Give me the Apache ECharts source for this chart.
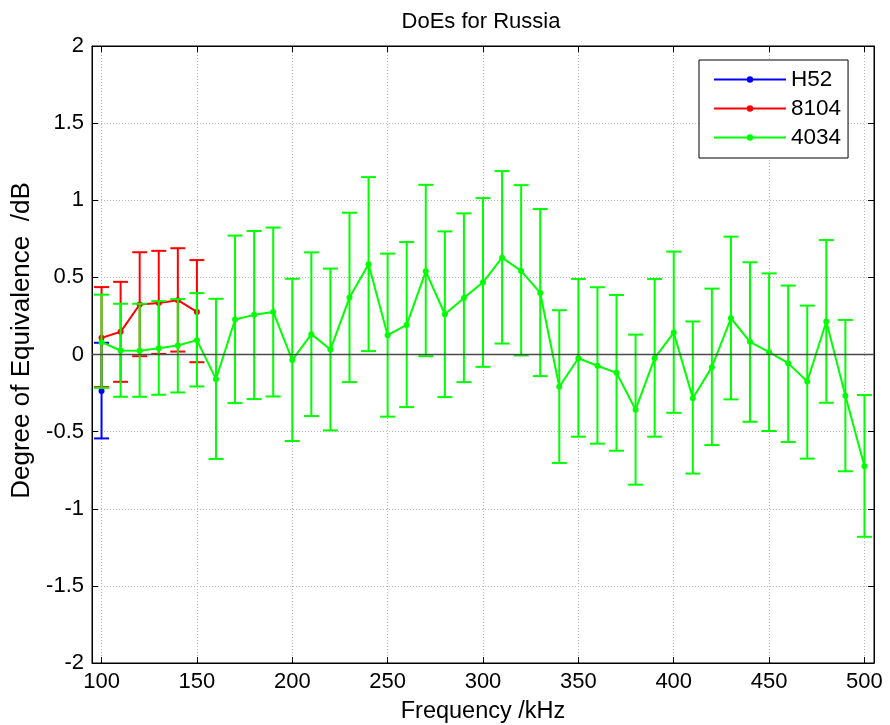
<!DOCTYPE html>
<html>
<head>
<meta charset="utf-8">
<script src="https://cdn.jsdelivr.net/npm/echarts@6/dist/echarts.min.js"></script>
<style>
html,body{margin:0;padding:0;background:#fff;}
#chart{width:890px;height:725px;}
</style>
</head>
<body>
<div id="chart"></div>
<script>
// ---- data ----
const xTicks = [100, 150, 200, 250, 300, 350, 400, 450, 500];
const xLimits = [95, 505];
const yLimits = [-2, 2];
const zeroLevel = 0;

const freqH52 = [100];
const valH52 = [-0.237];
const upH52 = [0.076];
const loH52 = [-0.544];

const freq8104 = [100, 110, 120, 130, 140, 150];
const val8104 = [0.108, 0.147, 0.324, 0.334, 0.352, 0.276];
const up8104 = [0.437, 0.471, 0.663, 0.672, 0.689, 0.612];
const lo8104 = [-0.211, -0.177, -0.011, 0.004, 0.019, -0.050];

const freq4034 = [100, 110, 120, 130, 140, 150, 160, 170, 180, 190, 200, 210, 220, 230, 240, 250, 260, 270, 280, 290, 300,
  310, 320, 330, 340, 350, 360, 370, 380, 390, 400, 410, 420, 430, 440, 450, 460, 470, 480, 490, 500];
const val4034 = [0.080, 0.026, 0.024, 0.041, 0.058, 0.093, -0.160, 0.227, 0.257, 0.276, -0.036, 0.132, 0.032, 0.369, 0.585,
  0.125, 0.192, 0.539, 0.261, 0.367, 0.468, 0.628, 0.542, 0.399, -0.209, -0.024, -0.073, -0.119, -0.358, -0.024, 0.142,
  -0.283, -0.082, 0.235, 0.082, 0.015, -0.056, -0.175, 0.214, -0.268, -0.725];
const up4034 = [0.388, 0.329, 0.329, 0.346, 0.359, 0.398, 0.361, 0.771, 0.801, 0.823, 0.491, 0.662, 0.557, 0.919, 1.150,
  0.654, 0.729, 1.100, 0.798, 0.915, 1.014, 1.189, 1.098, 0.943, 0.287, 0.490, 0.436, 0.386, 0.129, 0.490, 0.667,
  0.214, 0.427, 0.764, 0.598, 0.526, 0.447, 0.317, 0.742, 0.224, -0.263];
const lo4034 = [-0.216, -0.274, -0.274, -0.261, -0.246, -0.207, -0.677, -0.315, -0.289, -0.272, -0.561, -0.399, -0.492, -0.179, 0.022,
  -0.403, -0.341, -0.011, -0.276, -0.179, -0.080, 0.071, -0.006, -0.140, -0.703, -0.533, -0.578, -0.624, -0.844, -0.533, -0.378,
  -0.772, -0.587, -0.291, -0.436, -0.496, -0.567, -0.675, -0.313, -0.757, -1.182];

const FONT = 'Liberation Sans, Arial, sans-serif';

function pairs(xs, ys) { return xs.map((x, i) => [x, ys[i]]); }
function triples(xs, lo, hi) { return xs.map((x, i) => [x, lo[i], hi[i]]); }

function errRender(color) {
  return function (params, api) {
    const x = api.value(0), lo = api.value(1), hi = api.value(2);
    const a = api.coord([x, lo]), b = api.coord([x, hi]);
    const hw = 7.5;
    const st = { stroke: color, lineWidth: 2, fill: null };
    return {
      type: 'group',
      children: [
        { type: 'line', shape: { x1: a[0], y1: a[1], x2: b[0], y2: b[1] }, style: st },
        { type: 'line', shape: { x1: a[0] - hw, y1: a[1], x2: a[0] + hw, y2: a[1] }, style: st },
        { type: 'line', shape: { x1: b[0] - hw, y1: b[1], x2: b[0] + hw, y2: b[1] }, style: st }
      ]
    };
  };
}

function lineSeries(name, xs, ys, color, z) {
  return {
    name: name, type: 'line', data: pairs(xs, ys), color: color,
    symbol: 'circle', symbolSize: 6, showAllSymbol: true,
    lineStyle: { color: color, width: 2 }, itemStyle: { color: color },
    z: z, animation: false, clip: false
  };
}
function errSeries(name, xs, lo, hi, color, z) {
  return {
    name: name, type: 'custom', data: triples(xs, lo, hi),
    renderItem: errRender(color), z: z, animation: false, clip: false,
    encode: { x: 0, y: [1, 2] }
  };
}

const chart = echarts.init(document.getElementById('chart'), null, { renderer: 'canvas' });

const axisLineBlack = { show: true, onZero: false, lineStyle: { color: '#000', width: 1 } };
const gridDotted = { show: true, lineStyle: { color: '#b4b4b4', type: [1, 2], width: 1 } };

const option = {
  backgroundColor: '#fff',
  animation: false,
  textStyle: { fontFamily: FONT },
  title: {
    text: 'DoEs for Russia', left: 476, top: 6, textAlign: 'center',
    textStyle: { fontFamily: FONT, fontSize: 22, fontWeight: 'normal', color: '#000' }
  },
  grid: {
    left: 92, top: 46, right: 16, bottom: 62, show: true, borderColor: '#000', borderWidth: 1,
    backgroundColor: 'transparent', outerBoundsMode: 'none', containLabel: false
  },
  legend: {
    data: ['H52', '8104', '4034'], orient: 'vertical', left: 699, top: 60,
    itemWidth: 72, itemHeight: 8, itemGap: 6,
    padding: [8, 7, 9, 14],
    borderColor: '#000', borderWidth: 1, backgroundColor: '#fff',
    textStyle: { fontFamily: FONT, fontSize: 22.5, color: '#000', lineHeight: 23 },
    z: 20
  },
  xAxis: [{
    type: 'value', min: xLimits[0], max: xLimits[1], position: 'bottom',
    name: 'Frequency /kHz', nameLocation: 'middle', nameGap: 37,
    nameTextStyle: { fontFamily: FONT, fontSize: 23.5, color: '#000' },
    axisLine: axisLineBlack,
    axisTick: { show: true, inside: true, length: 6, customValues: xTicks, lineStyle: { color: '#000' } },
    axisLabel: { customValues: xTicks, fontFamily: FONT, fontSize: 22, color: '#000', margin: 8 },
    splitLine: gridDotted
  }, {
    type: 'value', min: xLimits[0], max: xLimits[1], position: 'top',
    axisLine: axisLineBlack,
    axisTick: { show: true, inside: true, length: 6, customValues: xTicks, lineStyle: { color: '#000' } },
    axisLabel: { show: false },
    splitLine: { show: false }
  }],
  yAxis: [{
    type: 'value', min: yLimits[0], max: yLimits[1], interval: 0.5, position: 'left',
    name: 'Degree of Equivalence  /dB', nameLocation: 'middle', nameGap: 56,
    nameTextStyle: { fontFamily: FONT, fontSize: 26, color: '#000', padding: [0, 0, 0, 28] },
    axisLine: axisLineBlack,
    axisTick: { show: true, inside: true, length: 6, lineStyle: { color: '#000' } },
    axisLabel: { fontFamily: FONT, fontSize: 22, color: '#000', margin: 8 },
    splitLine: gridDotted
  }, {
    type: 'value', min: yLimits[0], max: yLimits[1], interval: 0.5, position: 'right',
    axisLine: axisLineBlack,
    axisTick: { show: true, inside: true, length: 6, lineStyle: { color: '#000' } },
    axisLabel: { show: false },
    splitLine: { show: false }
  }],
  series: [
    errSeries('H52 err', freqH52, loH52, upH52, '#0000ff', 2),
    lineSeries('H52', freqH52, valH52, '#0000ff', 3),
    errSeries('8104 err', freq8104, lo8104, up8104, '#ff0000', 4),
    lineSeries('8104', freq8104, val8104, '#ff0000', 5),
    errSeries('4034 err', freq4034, lo4034, up4034, '#00ff00', 6),
    lineSeries('4034', freq4034, val4034, '#00ff00', 7),
    {
      name: 'zero', type: 'line', data: [[xLimits[0], zeroLevel], [xLimits[1], zeroLevel]],
      symbol: 'none', z: 9, silent: true, animation: false,
      lineStyle: { color: '#4a4a4a', width: 1.3 }
    }
  ]
};
chart.setOption(option);
</script>
</body>
</html>
